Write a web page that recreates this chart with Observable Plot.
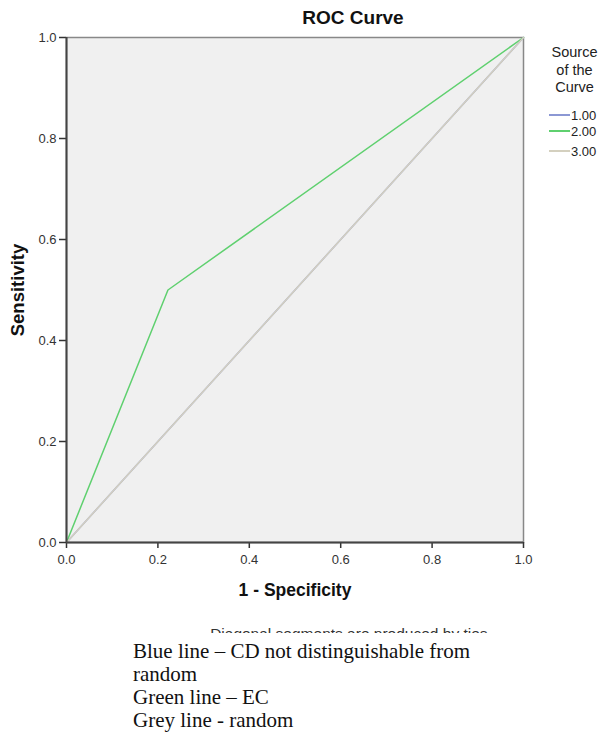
<!DOCTYPE html>
<html>
<head>
<meta charset="utf-8">
<script src="https://cdn.jsdelivr.net/npm/d3@7"></script>
<script src="https://cdn.jsdelivr.net/npm/@observablehq/plot@0.6"></script>
<style>
  body { margin: 0; background: #fff; font-family: "Liberation Sans", Arial, sans-serif; }
  #wrap { position: relative; width: 603px; height: 633px; overflow: hidden; }
  #title { position: absolute; left: 0; width: 706px; top: 7px; text-align: center; font: bold 19px "Liberation Sans", Arial, sans-serif; color: #111; }
  #legend { position: absolute; left: 540px; top: 44px; width: 63px; font: 14.5px "Liberation Sans", Arial, sans-serif; color: #222; }
  #legend .head { text-align: center; line-height: 17.5px; margin-left: 6px; }
  .item { position: absolute; left: 9px; height: 14px; display: flex; align-items: center; font-size: 13px; }
  .item span.sw { display: inline-block; width: 21px; height: 2px; margin-right: 1px; }
  #notes { margin-left: 133px; width: 380px; font: 21px "Liberation Serif", "Times New Roman", serif; line-height: 23px; color: #111; margin-top: 7px; }
</style>
</head>
<body>
<div id="wrap">
  <div id="title">ROC Curve</div>
  <div id="chart"></div>
  <div id="legend"></div>
</div>
<div id="notes"></div>
<script>
// Data
const seriesNames = ["1.00", "2.00", "3.00"];
const seriesColors = ["#8c98d4", "#5fd06f", "#d4d0bf"];
const fprBlue = [0, 1];
const tprBlue = [0, 1];
const fprGreen = [0, 0.222, 1];
const tprGreen = [0, 0.5, 1];
const fprGrey = [0, 1];
const tprGrey = [0, 1];
const tickValues = [0, 0.2, 0.4, 0.6, 0.8, 1.0];
const noteLines = ["Blue line – CD not distinguishable from random", "Green line – EC", "Grey line - random"];

const rows = [
  ...fprBlue.map((x, i) => ({series: seriesNames[0], fpr: x, tpr: tprBlue[i]})),
  ...fprGreen.map((x, i) => ({series: seriesNames[1], fpr: x, tpr: tprGreen[i]})),
  ...fprGrey.map((x, i) => ({series: seriesNames[2], fpr: x, tpr: tprGrey[i]}))
];

const chart = Plot.plot({
  width: 603,
  height: 633,
  marginLeft: 66,
  marginRight: 80,
  marginTop: 37,
  marginBottom: 91,
  style: {fontFamily: "'Liberation Sans', Arial, sans-serif", fontSize: "13px", color: "#333", background: "white"},
  x: {domain: [0, 1], ticks: tickValues, tickFormat: d3.format(".1f"), label: null},
  y: {domain: [0, 1], ticks: tickValues, tickFormat: d3.format(".1f"), label: null},
  color: {domain: seriesNames, range: seriesColors},
  marks: [
    Plot.frame({fill: "#f0f0f0", stroke: "#888", strokeWidth: 1.5}),
    Plot.line(rows, {x: "fpr", y: "tpr", z: "series", stroke: "series", strokeWidth: 1.5}),
    Plot.axisX({ticks: tickValues, tickFormat: d3.format(".1f"), tickSize: 6, tickPadding: 6, stroke: "#333", strokeWidth: 1.5, fill: "#333", fontSize: 13}),
    Plot.axisY({ticks: tickValues, tickFormat: d3.format(".1f"), tickSize: 7, tickPadding: 3, stroke: "#333", strokeWidth: 1.5, fill: "#333", fontSize: 13}),
    Plot.ruleX([0], {stroke: "#444", strokeWidth: 2}),
    Plot.ruleY([0], {stroke: "#444", strokeWidth: 2}),
    Plot.text(["1 - Specificity"], {frameAnchor: "bottom", dy: 53, fontWeight: "bold", fontSize: 17.5, fill: "#111"}),
    Plot.text(["Sensitivity"], {frameAnchor: "left", textAnchor: "middle", dx: -48, dy: 0, rotate: -90, fontWeight: "bold", fontSize: 18.5, fill: "#111"}),
    Plot.text(["Diagonal segments are produced by ties."], {frameAnchor: "bottom", dx: 56, dy: 96, fontSize: 15.5, fill: "#333", lineAnchor: "bottom"})
  ]
});
document.getElementById("chart").appendChild(chart);

// Legend
const legend = document.getElementById("legend");
legend.innerHTML = '<div class="head">Source<br>of the<br>Curve</div>';
const itemTops = [64, 80, 100];
seriesNames.forEach((name, i) => {
  const d = document.createElement("div");
  d.className = "item";
  d.style.top = itemTops[i] + "px";
  d.innerHTML = `<span class="sw" style="background:${seriesColors[i]}"></span>${name}`;
  legend.appendChild(d);
});

document.getElementById("notes").innerHTML = noteLines.map(s => `<div>${s}</div>`).join("");
</script>
</body>
</html>
